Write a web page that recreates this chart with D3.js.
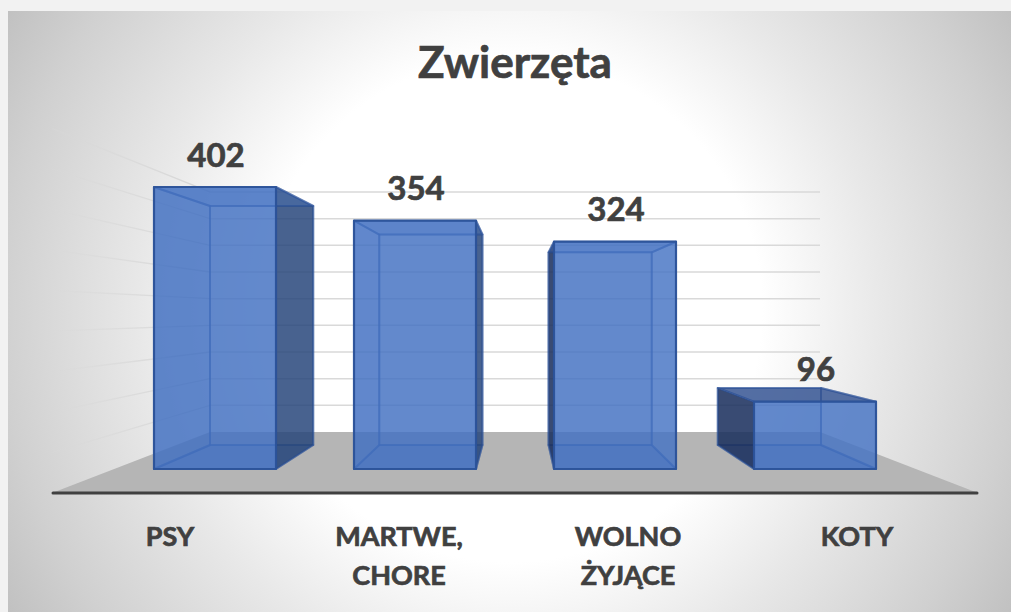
<!DOCTYPE html>
<html>
<head>
<meta charset="utf-8">
<script src="https://cdn.jsdelivr.net/npm/d3@7"></script>
<style>
  html, body { margin: 0; padding: 0; background: #f2f2f2; overflow: hidden; }
  svg { display: block; }
  text { font-family: Lato, sans-serif; font-weight: 700; fill: #404040; stroke: #404040; stroke-width: 0.7px; }
</style>
</head>
<body>
<div id="chart"></div>
<script>
// Zwierzęta: 3D column chart, boxes drawn as translucent faces

const chartTitle = 'Zwierzęta';
const categories = ['PSY', 'MARTWE, CHORE', 'WOLNO ŻYJĄCE', 'KOTY'];
const categoryLines = [['PSY'], ['MARTWE,', 'CHORE'], ['WOLNO', 'ŻYJĄCE'], ['KOTY']];
const values = [402, 354, 324, 96];
const gridTicks = [0, 50, 100, 150, 200, 250, 300, 350, 400, 450];

const W = 1011, H = 612;

const svg = d3.select('#chart').append('svg').attr('width', W).attr('height', H);
const defs = svg.append('defs');

// panel background, white middle going grey at the corners
const bg = defs.append('radialGradient').attr('id', 'bg')
  .attr('gradientUnits', 'userSpaceOnUse')
  .attr('cx', 510).attr('cy', 310).attr('r', 600);
[[0, '#ffffff'], [0.42, '#ffffff'], [0.62, '#e8e8e8'], [0.85, '#d0d0d0'], [1, '#bebebe']].forEach(s => {
  bg.append('stop').attr('offset', s[0]).attr('stop-color', s[1]);
});

const wallFade = defs.append('linearGradient').attr('id', 'wallFade')
  .attr('gradientUnits', 'userSpaceOnUse').attr('x1', 52).attr('x2', 210).attr('y1', 0).attr('y2', 0);
wallFade.append('stop').attr('offset', 0).attr('stop-color', '#d9d9d9').attr('stop-opacity', 0.25);
wallFade.append('stop').attr('offset', 1).attr('stop-color', '#d4d4d4').attr('stop-opacity', 1);

svg.append('rect').attr('x', 8).attr('y', 11).attr('width', W - 8).attr('height', H - 11).attr('fill', 'url(#bg)');

// scales: front plane of the boxes, back plane of the boxes, chart walls
const xFront = d3.scaleBand().domain(categories).range([154, 876]).paddingInner(0.39).paddingOuter(0);
const xBack = d3.scaleBand().domain(categories).range([210, 821]).paddingInner(0.39).paddingOuter(0);
const yFront = d3.scaleLinear().domain([0, 402]).range([469, 187]);
const yBack = d3.scaleLinear().domain([0, 402]).range([445, 206]);
const yWall = d3.scaleLinear().domain([0, 450]).range([432, 192]);
const yEdge = d3.scaleLinear().domain([0, 450]).range([493, 128.5]);
const xLabel = d3.scalePoint().domain(categories).range([170, 857]);

// floor
svg.append('polygon')
  .attr('points', [[52, yEdge(0)], [978, yEdge(0)], [820, yWall(0)], [210, yWall(0)]].join(' '))
  .attr('fill', '#b5b5b5');

// gridlines on back wall and left wall
svg.append('g').selectAll('line.back').data(gridTicks.slice(1)).enter().append('line')
  .attr('class', 'back')
  .attr('x1', 210).attr('x2', 820)
  .attr('y1', d => yWall(d)).attr('y2', d => yWall(d))
  .attr('stroke', '#d9d9d9').attr('stroke-width', 1.5);

svg.append('g').selectAll('polygon.side').data(gridTicks.slice(1)).enter().append('polygon')
  .attr('class', 'side')
  .attr('points', d => [[52, yEdge(d) - 0.7], [210, yWall(d) - 0.7], [210, yWall(d) + 0.7], [52, yEdge(d) + 0.7]].join(' '))
  .attr('fill', 'url(#wallFade)');

// axis line
svg.append('line')
  .attr('x1', 53).attr('x2', 977).attr('y1', yEdge(0)).attr('y2', yEdge(0))
  .attr('stroke', '#404040').attr('stroke-width', 3).attr('stroke-linecap', 'round');

// boxes
const faceStroke = '#2b5299';
const rows = categories.map((c, i) => {
  const fl = xFront(c), fr = fl + xFront.bandwidth();
  const bl = xBack(c), br = bl + xBack.bandwidth();
  const ft = yFront(values[i]), fb = yFront(0);
  const bt = yBack(values[i]), bb = yBack(0);
  return { c, fl, fr, bl, br, ft, fb, bt, bb };
});

function face(g, pts, fill, opacity, sw, so) {
  g.append('polygon')
    .attr('points', pts.join(' '))
    .attr('fill', fill).attr('fill-opacity', opacity)
    .attr('stroke', faceStroke).attr('stroke-width', sw).attr('stroke-opacity', so)
    .attr('stroke-linejoin', 'round');
}

const boxes = svg.append('g').selectAll('g').data(rows).enter().append('g');
boxes.each(function(d) {
  const g = d3.select(this);
  const leftOut = d.bl < d.fl, rightOut = d.br > d.fr;
  // a top face is only seen from outside when the back edge is above the front edge (short boxes)
  const topOut = d.bt < d.ft;
  // back, bottom, then the sides, top and front last
  face(g, [[d.bl, d.bt], [d.br, d.bt], [d.br, d.bb], [d.bl, d.bb]], '#4472c4', 0.15, 2, 0.45);
  face(g, [[d.fl, d.fb], [d.fr, d.fb], [d.br, d.bb], [d.bl, d.bb]], '#3e6abb', 0.35, 2, 0.45);
  face(g, [[d.fl, d.ft], [d.bl, d.bt], [d.bl, d.bb], [d.fl, d.fb]], leftOut ? '#1b2f5c' : '#3f6cc0', leftOut ? 0.85 : 0.2, 2, 0.5);
  face(g, [[d.fr, d.ft], [d.br, d.bt], [d.br, d.bb], [d.fr, d.fb]], rightOut ? '#264478' : '#a4c2f8', rightOut ? 0.82 : 0.12, 2, 0.5);
  face(g, [[d.fl, d.ft], [d.fr, d.ft], [d.br, d.bt], [d.bl, d.bt]], topOut ? '#2f4f8f' : '#3f6cc0', topOut ? 0.8 : 0.3, 2, 0.5);
  face(g, [[d.fl, d.ft], [d.fr, d.ft], [d.fr, d.fb], [d.fl, d.fb]], '#4270c2', 0.8, 2.2, 0.95);
});

// value labels sit above the front top edge
svg.append('g').selectAll('text').data(rows).enter().append('text')
  .attr('x', d => d.fl + xFront.bandwidth() / 2 + 1)
  .attr('y', d => d.ft - 20.5)
  .attr('text-anchor', 'middle')
  .attr('font-size', 33)
  .text((d, i) => values[i]);

// category labels
const catLabels = svg.append('g').selectAll('text').data(categories).enter().append('text')
  .attr('x', d => xLabel(d))
  .attr('y', 546)
  .attr('text-anchor', 'middle')
  .attr('font-size', 27);
catLabels.each(function(d, i) {
  categoryLines[i].forEach((line, k) => {
    d3.select(this).append('tspan').attr('x', xLabel(d)).attr('dy', k === 0 ? 0 : 39).text(line);
  });
});

svg.append('text')
  .attr('x', 515).attr('y', 78)
  .attr('text-anchor', 'middle')
  .attr('font-size', 44)
  .text(chartTitle);
</script>
</body>
</html>
